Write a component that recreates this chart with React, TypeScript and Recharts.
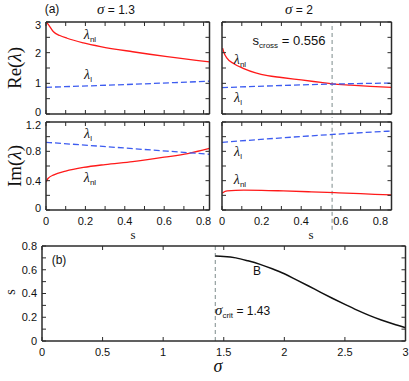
import React from 'react'
import { LineChart, Line, XAxis, YAxis, ReferenceLine } from 'recharts'

// tick positions and labels
const sTicks = [0, 0.1, 0.2, 0.3, 0.4, 0.5, 0.6, 0.7, 0.8]
const sLabels = [0, 0.2, 0.4, 0.6, 0.8]
const reTicks = [0, 0.5, 1, 1.5, 2, 2.5, 3]
const reLabels = [0, 1, 2, 3]
const imTicks = [0, 0.2, 0.4, 0.6, 0.8, 1, 1.2]
const imLabels = [0, 0.4, 0.8, 1.2]
const sigmaTicks = [0, 0.5, 1, 1.5, 2, 2.5, 3]
const bTicks = [0, 0.1, 0.2, 0.3, 0.4, 0.5, 0.6, 0.7, 0.8]
const bLabels = [0, 0.2, 0.4, 0.6, 0.8]

// sigma = 1.3
const sReNl13 = [0, 0.005, 0.014, 0.038, 0.07, 0.107, 0.19, 0.277, 0.44, 0.615, 0.83]
const reNl13 = [3.0, 2.97, 2.9, 2.68, 2.56, 2.47, 2.32, 2.2, 2.03, 1.87, 1.7]
const sReL13 = [0, 0.4, 0.83]
const reL13 = [0.87, 0.96, 1.07]
const sImNl13 = [0, 0.01, 0.04, 0.1, 0.19, 0.3, 0.44, 0.6, 0.72, 0.83]
const imNl13 = [0.38, 0.43, 0.48, 0.53, 0.58, 0.62, 0.66, 0.72, 0.77, 0.84]
const sImL13 = [0, 0.4, 0.83]
const imL13 = [0.923, 0.845, 0.76]

// sigma = 2
const sCross = 0.556
const sReNl2 = [0.003, 0.01, 0.025, 0.06, 0.11, 0.17, 0.23, 0.3, 0.4, 0.5, 0.556, 0.65, 0.75, 0.856]
const reNl2 = [2.15, 2.0, 1.82, 1.64, 1.48, 1.34, 1.25, 1.19, 1.11, 1.03, 0.985, 0.94, 0.9, 0.87]
const sReL2 = [0, 0.556, 0.856]
const reL2 = [0.86, 0.975, 1.01]
const sImNl2 = [0, 0.026, 0.11, 0.2, 0.31, 0.45, 0.57, 0.7, 0.856]
const imNl2 = [0.23, 0.26, 0.27, 0.268, 0.26, 0.248, 0.236, 0.222, 0.205]
const sImL2 = [0, 0.556, 0.856]
const imL2 = [0.923, 1.03, 1.077]

// panel (b)
const sigmaCrit = 1.43
const sigmaB = [1.43, 1.5, 1.6, 1.7, 1.8, 1.9, 2.0, 2.1, 2.2, 2.3, 2.4, 2.5, 2.6, 2.7, 2.8, 2.9, 3.0]
const sB = [0.715, 0.712, 0.7, 0.675, 0.645, 0.608, 0.566, 0.515, 0.463, 0.41, 0.358, 0.308, 0.26, 0.216, 0.177, 0.143, 0.112]

const zip = (xs: number[], ys: number[]) => xs.map((x, i) => ({ x, y: ys[i] }))

const RED = '#ff1a1a'
const BLUE = '#3d5cf0'
const AXIS = '#2b2b2b'
const sans = '"Liberation Sans", Arial, sans-serif'
const serif = '"Liberation Serif", "Times New Roman", serif'

const LEFT_W = 40
const BOTTOM_H = 22
const PAD = 5
const TICK = 4
const X_GAP = 7
const Y_GAP = 5

type Side = 'bottom' | 'top' | 'left' | 'right'

// draws an inward tick mark and, when listed, its label
function makeTick(side: Side, labels: number[], yMin = 0, yMax = 0, endShift = false) {
  return (props: any) => {
    const { x, y, payload } = props
    const v = payload.value as number
    const show = labels.includes(v)
    const txt = { fontSize: 11, fill: '#111', fontFamily: sans }
    if (side === 'bottom') {
      const edge = y - X_GAP
      return (
        <g>
          <line x1={x} x2={x} y1={edge} y2={edge - TICK} stroke={AXIS} strokeWidth={1} />
          {show && (
            <text x={x} y={y} dy="0.71em" textAnchor="middle" {...txt}>
              {String(v)}
            </text>
          )}
        </g>
      )
    }
    if (side === 'left') {
      const edge = x + Y_GAP
      let dy = 0
      if (endShift && v === yMax) dy = 3
      if (endShift && v === yMin) dy = -1.5
      return (
        <g>
          <line x1={edge} x2={edge + TICK} y1={y} y2={y} stroke={AXIS} strokeWidth={1} />
          {show && (
            <text x={x} y={y + dy} dy="0.35em" textAnchor="end" {...txt}>
              {String(v)}
            </text>
          )}
        </g>
      )
    }
    if (side === 'top') {
      return <line x1={x} x2={x} y1={y} y2={y + TICK} stroke={AXIS} strokeWidth={1} />
    }
    return <line x1={x - TICK} x2={x} y1={y} y2={y} stroke={AXIS} strokeWidth={1} />
  }
}

type Box = { x0: number; y0: number; x1: number; y1: number }

function Panel({
  box,
  xDomain,
  yDomain,
  xTicks,
  xLabels,
  yTicks,
  yLabels,
  endShift = false,
  children,
}: {
  box: Box
  xDomain: [number, number]
  yDomain: [number, number]
  xTicks: number[]
  xLabels: number[]
  yTicks: number[]
  yLabels: number[]
  endShift?: boolean
  children: React.ReactNode
}) {
  const w = box.x1 - box.x0 + LEFT_W + PAD
  const h = box.y1 - box.y0 + PAD + BOTTOM_H
  const common = {
    axisLine: { stroke: AXIS, strokeWidth: 1.5 },
    stroke: AXIS,
    tickLine: false,
    tickSize: 0,
    interval: 0 as const,
    allowDataOverflow: true,
  }
  return (
    <div style={{ position: 'absolute', left: box.x0 - LEFT_W, top: box.y0 - PAD }}>
      <LineChart width={w} height={h} margin={{ top: PAD - 1, right: PAD - 1, bottom: 0, left: 0 }}>
        <XAxis
          xAxisId="b"
          type="number"
          dataKey="x"
          domain={xDomain}
          ticks={xTicks}
          tick={makeTick('bottom', xLabels)}
          tickMargin={X_GAP}
          height={BOTTOM_H}
          {...common}
        />
        <XAxis
          xAxisId="t"
          orientation="top"
          type="number"
          dataKey="x"
          domain={xDomain}
          ticks={xTicks}
          tick={makeTick('top', [])}
          tickMargin={0}
          height={1}
          {...common}
        />
        <YAxis
          yAxisId="l"
          type="number"
          domain={yDomain}
          ticks={yTicks}
          tick={makeTick('left', yLabels, yDomain[0], yDomain[1], endShift)}
          tickMargin={Y_GAP}
          width={LEFT_W}
          {...common}
        />
        <YAxis
          yAxisId="r"
          orientation="right"
          type="number"
          domain={yDomain}
          ticks={yTicks}
          tick={makeTick('right', [])}
          tickMargin={0}
          width={1}
          {...common}
        />
        {children}
      </LineChart>
    </div>
  )
}

function series(data: { x: number; y: number }[], color: string, dashed: boolean, key: string) {
  return (
    <Line
      key={key}
      xAxisId="b"
      yAxisId="l"
      data={data}
      dataKey="y"
      type="monotone"
      stroke={color}
      strokeWidth={1.3}
      strokeDasharray={dashed ? '6 3' : undefined}
      dot={false}
      isAnimationActive={false}
    />
  )
}

function T({
  x,
  y,
  children,
  style,
  rotate,
}: {
  x: number
  y: number
  children: React.ReactNode
  style?: React.CSSProperties
  rotate?: boolean
}) {
  return (
    <div
      style={{
        position: 'absolute',
        left: x,
        top: y,
        transform: `translate(-50%, -50%)${rotate ? ' rotate(-90deg)' : ''}`,
        whiteSpace: 'nowrap',
        lineHeight: 1,
        fontFamily: sans,
        fontSize: 12,
        color: '#111',
        ...style,
      }}
    >
      {children}
    </div>
  )
}

const Lam = ({ sub }: { sub: string }) => (
  <span style={{ fontFamily: serif, fontStyle: 'italic', fontSize: 14 }}>
    λ<span style={{ fontStyle: 'normal', fontSize: 8, fontFamily: sans, verticalAlign: -3 }}>{sub}</span>
  </span>
)

const gray = { stroke: '#7d8c8c', strokeWidth: 1, strokeDasharray: '4 3' }

export default function App() {
  const tl = { x0: 45.5, y0: 22, x1: 209, y1: 114 }
  const tr = { x0: 221.5, y0: 22, x1: 391, y1: 114 }
  const bl = { x0: 45.5, y0: 122, x1: 209, y1: 210 }
  const br = { x0: 221.5, y0: 122, x1: 391, y1: 210 }
  const bb = { x0: 41.5, y0: 245.5, x1: 405, y1: 340.5 }
  return (
    <div style={{ position: 'absolute', left: 0, top: 0, width: 409, height: 381, background: '#fff', overflow: 'hidden' }}>
      <Panel box={tl} xDomain={[0, 0.83]} yDomain={[0, 3]} xTicks={sTicks} xLabels={[]} yTicks={reTicks} yLabels={reLabels} endShift>
        {series(zip(sReNl13, reNl13), RED, false, 'a')}
        {series(zip(sReL13, reL13), BLUE, true, 'b')}
      </Panel>
      <Panel box={tr} xDomain={[0, 0.856]} yDomain={[0, 3]} xTicks={sTicks} xLabels={[]} yTicks={reTicks} yLabels={[]}>
        <ReferenceLine xAxisId="b" yAxisId="l" x={sCross} {...gray} />
        {series(zip(sReNl2, reNl2), RED, false, 'a')}
        {series(zip(sReL2, reL2), BLUE, true, 'b')}
      </Panel>
      <Panel box={bl} xDomain={[0, 0.83]} yDomain={[0, 1.2]} xTicks={sTicks} xLabels={sLabels} yTicks={imTicks} yLabels={imLabels} endShift>
        {series(zip(sImNl13, imNl13), RED, false, 'a')}
        {series(zip(sImL13, imL13), BLUE, true, 'b')}
      </Panel>
      <Panel box={br} xDomain={[0, 0.856]} yDomain={[0, 1.2]} xTicks={sTicks} xLabels={sLabels} yTicks={imTicks} yLabels={[]}>
        <ReferenceLine
          xAxisId="b"
          yAxisId="l"
          segment={[
            { x: sCross, y: -0.27 },
            { x: sCross, y: 1.31 },
          ]}
          ifOverflow="visible"
          {...gray}
        />
        {series(zip(sImNl2, imNl2), RED, false, 'a')}
        {series(zip(sImL2, imL2), BLUE, true, 'b')}
      </Panel>
      <Panel box={bb} xDomain={[0, 3]} yDomain={[0, 0.8]} xTicks={sigmaTicks} xLabels={sigmaTicks} yTicks={bTicks} yLabels={bLabels}>
        <ReferenceLine xAxisId="b" yAxisId="l" x={sigmaCrit} {...gray} />
        <Line
          xAxisId="b"
          yAxisId="l"
          data={zip(sigmaB, sB)}
          dataKey="y"
          type="monotone"
          stroke="#111"
          strokeWidth={1.5}
          dot={false}
          isAnimationActive={false}
        />
      </Panel>

      <T x={52} y={9}>(a)</T>
      <T x={116} y={9}>
        <span style={{ fontFamily: serif, fontStyle: 'italic', fontSize: 15 }}>σ</span> = 1.3
      </T>
      <T x={299} y={9}>
        <span style={{ fontFamily: serif, fontStyle: 'italic', fontSize: 15 }}>σ</span> = 2
      </T>
      <T x={14} y={68} rotate style={{ fontFamily: serif, fontSize: 19 }}>
        Re(<i>λ</i>)
      </T>
      <T x={14} y={166} rotate style={{ fontFamily: serif, fontSize: 19 }}>
        Im(<i>λ</i>)
      </T>
      <T x={133} y={234} style={{ fontFamily: serif, fontSize: 13 }}>s</T>
      <T x={311} y={234} style={{ fontFamily: serif, fontSize: 13 }}>s</T>

      <T x={90} y={36}><Lam sub="nl" /></T>
      <T x={88} y={76}><Lam sub="l" /></T>
      <T x={240} y={61}><Lam sub="nl" /></T>
      <T x={238} y={99}><Lam sub="l" /></T>
      <T x={289} y={42} style={{ fontSize: 13 }}>
        s<span style={{ fontSize: 8, verticalAlign: -3 }}>cross</span> = 0.556
      </T>
      <T x={88} y={135}><Lam sub="l" /></T>
      <T x={90} y={179}><Lam sub="nl" /></T>
      <T x={238} y={153}><Lam sub="l" /></T>
      <T x={240} y={181}><Lam sub="nl" /></T>

      <T x={59} y={260}>(b)</T>
      <T x={11} y={292} rotate style={{ fontFamily: serif, fontSize: 14 }}>s</T>
      <T x={218} y={366} style={{ fontFamily: serif, fontStyle: 'italic', fontSize: 18 }}>σ</T>
      <T x={257} y={271}>B</T>
      <div style={{ position: 'absolute', left: 215, top: 303, whiteSpace: 'nowrap', fontFamily: sans, fontSize: 12, lineHeight: 1, color: '#111' }}>
        <span style={{ fontFamily: serif, fontStyle: 'italic', fontSize: 15 }}>σ</span>
        <span style={{ fontSize: 8, verticalAlign: -3 }}>crit</span> = 1.43
      </div>
    </div>
  )
}
